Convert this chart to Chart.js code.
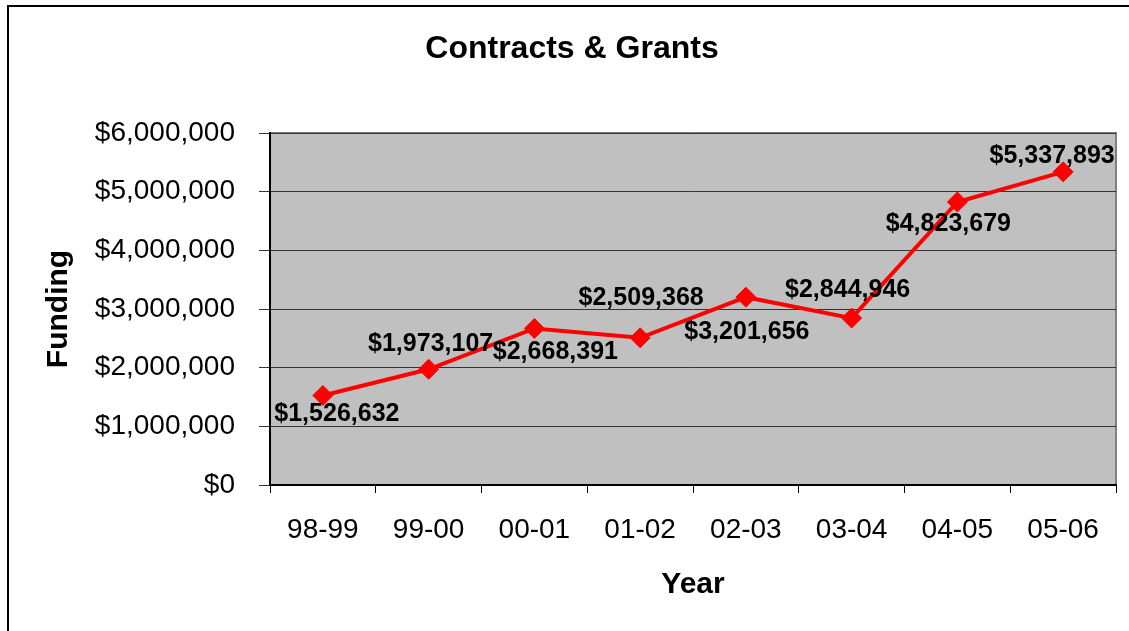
<!DOCTYPE html>
<html>
<head>
<meta charset="utf-8">
<script src="https://cdn.jsdelivr.net/npm/chart.js@4/dist/chart.umd.min.js"></script>
<style>
  body { margin: 0; background: #fff; overflow: hidden; }
  #wrap { position: relative; width: 1129px; height: 631px; overflow: hidden; }
  #frame { position: absolute; left: 7px; top: 5px; width: 1200px; height: 700px; border: 2px solid #000; pointer-events: none; }
  canvas { position: absolute; left: 0; top: 0; }
</style>
</head>
<body>
<div id="wrap">
  <canvas id="grafico" width="1129" height="631"></canvas>
  <div id="frame"></div>
</div>
<script>
// dados
const anos = ["98-99", "99-00", "00-01", "01-02", "02-03", "03-04", "04-05", "05-06"];
const financiamento = [1526632, 1973107, 2668391, 2509368, 3201656, 2844946, 4823679, 5337893];
const ticksY = [0, 1000000, 2000000, 3000000, 4000000, 5000000, 6000000];

// deslocamento dos rótulos em relação ao ponto (px)
const offsetsRotulos = [
  [14, 19], [2, -25], [21, 24], [1, -40],
  [1, 35], [-4, -28], [-9, 22], [-11, -16],
];

const moeda = (v) => "$" + v.toLocaleString("en-US");

const fundoPlot = {
  id: "fundoPlot",
  beforeDraw(chart) {
    const { ctx, chartArea: a } = chart;
    ctx.save();
    ctx.fillStyle = "#C0C0C0";
    ctx.fillRect(a.left, a.top, a.right - a.left, a.bottom - a.top);
    ctx.strokeStyle = "#808080";
    ctx.lineWidth = 2;
    ctx.beginPath();
    ctx.moveTo(a.left, a.top);
    ctx.lineTo(a.right, a.top);
    ctx.lineTo(a.right, a.bottom);
    ctx.stroke();
    ctx.restore();
  },
};

const rotulos = {
  id: "rotulos",
  afterDatasetsDraw(chart) {
    const { ctx } = chart;
    const meta = chart.getDatasetMeta(0);
    ctx.save();
    ctx.font = "bold 25px 'Liberation Sans', Arial, sans-serif";
    ctx.fillStyle = "#000";
    ctx.textAlign = "center";
    ctx.textBaseline = "middle";
    meta.data.forEach((p, i) => {
      const [dx, dy] = offsetsRotulos[i];
      ctx.fillText(moeda(financiamento[i]), p.x + dx, p.y + dy);
    });
    ctx.restore();
  },
};

const fonte = "'Liberation Sans', Arial, sans-serif";

new Chart(document.getElementById("grafico"), {
  type: "line",
  data: {
    labels: anos,
    datasets: [{
      label: "Funding",
      data: financiamento,
      borderColor: "#FF0000",
      backgroundColor: "#FF0000",
      borderWidth: 4,
      pointStyle: "rectRot",
      pointRadius: 10,
      pointBorderWidth: 1,
      tension: 0,
    }],
  },
  options: {
    responsive: false,
    animation: false,
    layout: { padding: { left: 28, right: 13, top: 0, bottom: 0 } },
    plugins: {
      legend: { display: false },
      tooltip: { enabled: false },
      title: {
        display: true,
        text: "Contracts & Grants",
        color: "#000",
        font: { family: fonte, size: 32, weight: "bold" },
        padding: { top: 30, bottom: 64.6 },
      },
    },
    scales: {
      x: {
        offset: true,
        grid: { display: true, offset: true, drawOnChartArea: false, drawTicks: true, tickLength: 8, color: "#000" },
        border: { display: true, color: "#000", width: 2 },
        ticks: { color: "#000", font: { family: fonte, size: 28 }, padding: 20 },
        title: {
          display: true,
          text: "Year",
          color: "#000",
          font: { family: fonte, size: 30, weight: "bold" },
          padding: { top: 0, bottom: 28 },
        },
        afterFit(scale) { scale.height = 146; },
      },
      y: {
        min: 0,
        max: 6000000,
        grid: { color: "#333", lineWidth: 1, tickLength: 11, drawTicks: true },
        border: { display: true, color: "#000", width: 2 },
        afterBuildTicks(scale) { scale.ticks = ticksY.map((v) => ({ value: v })); },
        ticks: {
          color: "#000",
          font: { family: fonte, size: 28 },
          padding: 24,
          callback: (v) => moeda(v),
        },
        title: {
          display: true,
          text: "Funding",
          color: "#000",
          font: { family: fonte, size: 30, weight: "bold" },
          padding: { top: 13, bottom: 0 },
        },
        afterFit(scale) { scale.width = 242; },
      },
    },
  },
  plugins: [fundoPlot, rotulos],
});
</script>
</body>
</html>
